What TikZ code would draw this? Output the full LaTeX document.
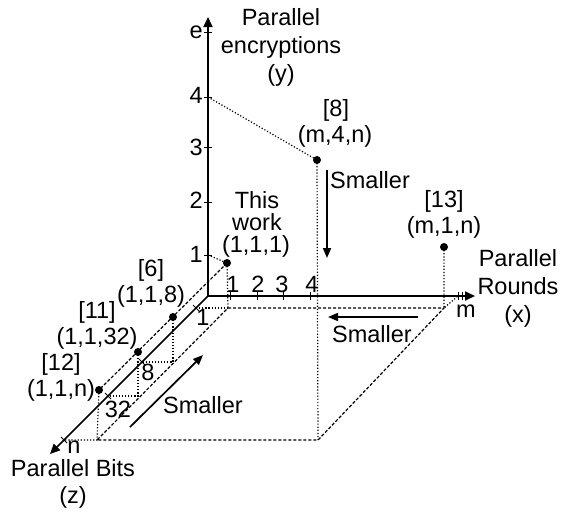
\documentclass[tikz,border=0pt]{standalone}
\usepackage{fontspec}
\setmainfont{Liberation Sans}
\usetikzlibrary{arrows.meta}
\begin{document}
\begin{tikzpicture}[x=1pt,y=-1pt,
  axis/.style={line width=1.7pt,-{Triangle[length=10pt,width=9pt]}},
  arr/.style={line width=1.7pt,-{Triangle[length=10pt,width=8pt]}},
  dotl/.style={line width=1.2pt,dash pattern=on 1.2pt off 1.9pt},
  dashl/.style={line width=1.2pt,dash pattern=on 3.2pt off 1.8pt},
  tick/.style={line width=0.9pt},
  pt/.style={fill=black,circle,inner sep=0pt,minimum size=8pt},
  lbl/.style={inner sep=0pt,anchor=base,font=\fontsize{23.5}{28}\selectfont},
  lble/.style={lbl,anchor=base east},
  lblw/.style={lbl,anchor=base west}]
\useasboundingbox (0,0) rectangle (561,515);
% axes
\coordinate (O) at (208,296);
\coordinate (ytip) at (208,17);
\coordinate (xtip) at (475,296);
\coordinate (ztip) at (50,454);
% y ticks
\coordinate (Y1) at (208,255);
\coordinate (Y2) at (208,202);
\coordinate (Y3) at (208,147);
\coordinate (Y4) at (208,97);
\coordinate (Ye) at (208,32);
% x ticks
\coordinate (X1) at (230,296);
\coordinate (X2) at (257,296);
\coordinate (X3) at (283,296);
\coordinate (X4) at (310,296);
\coordinate (Xm) at (458,296);
\coordinate (Xmb) at (462,296);
% z ticks
\coordinate (Z1) at (196,308);
\coordinate (Z8) at (142,362);
\coordinate (Z32) at (108,396);
\coordinate (Zn) at (64,440);
% floor
\coordinate (A) at (228,308);
\coordinate (B) at (444,308);
\coordinate (C) at (318,440);
\coordinate (D) at (97,440);
\coordinate (F6) at (173,362);
\coordinate (F11) at (138,396);
% arrows for Smaller
\coordinate (s1a) at (327,170);
\coordinate (s1b) at (327,258);
\coordinate (s2a) at (418,317);
\coordinate (s2b) at (328,317);
\coordinate (s3a) at (130,427);
\coordinate (s3b) at (203,355);

\draw[axis] (O) -- (ytip);
\draw[axis] (O) -- (xtip);
\draw[axis] (O) -- (ztip);

\foreach \t in {Y1,Y2,Y3,Y4,Ye} \draw[tick] ([xshift=-4pt]\t) -- ([xshift=4pt]\t);
\foreach \t in {X1,X2,X3,X4,Xm,Xmb} \draw[tick] ([yshift=-4pt]\t) -- ([yshift=4pt]\t);
\foreach \t in {Z1,Z8,Z32,Zn} \draw[tick] ([shift={(-3,-3)}]\t) -- ([shift={(3,3)}]\t);

% points
\node[pt] (P111) at (227,263) {};
\node[pt] (P6) at (173,317) {};
\node[pt] (P11) at (138,352) {};
\node[pt] (P12) at (99,390) {};
\node[pt] (P8) at (317,160) {};
\node[pt] (P13) at (444,247) {};

% dashed
\draw[dashl] (P111.center) -- (P12.center);
\draw[dashl] (A) -- (B) -- (C) -- (D) -- cycle;

% dotted
\draw[dotl] (Y1) -- (P111.center);
\draw[dotl] (Y4) -- (P8.center);
\draw[dotl] (P111.center) -- (A);
\draw[dotl] (Z1) -- (A);
\draw[dotl] (P6.center) -- (F6) -- (Z8);
\draw[dotl] (P11.center) -- (F11) -- (Z32);
\draw[dotl] (P12.center) -- (D) -- (Zn);
\draw[dotl] (P8.center) -- (C);
\draw[dotl] (P13.center) -- (B) -- (Xm);

% Smaller arrows
\draw[arr] (s1a) -- (s1b);
\draw[arr] (s2a) -- (s2b);
\draw[arr] (s3a) -- (s3b);

% labels
\node[lbl] (ylab1) at (281,25) {Parallel};
\node[lbl] (ylab2) at (281,53) {encryptions};
\node[lbl] (ylab3) at (281,81) {(y)};
\node[lbl] (xlab1) at (518,266) {Parallel};
\node[lbl] (xlab2) at (518,294) {Rounds};
\node[lbl] (xlab3) at (518,322) {(x)};
\node[lbl] (zlab1) at (73,476) {Parallel Bits};
\node[lbl] (zlab2) at (73,503) {(z)};
\node[lbl] (tw1) at (257,208) {This};
\node[lbl] (tw2) at (257,230) {work};
\node[lbl] (tw3) at (256,252) {(1,1,1)};
\node[lbl] (r8a) at (336,116) {[8]};
\node[lbl] (r8b) at (335,142) {(m,4,n)};
\node[lbl] (r13a) at (444,207) {[13]};
\node[lbl] (r13b) at (444,233) {(m,1,n)};
\node[lbl] (r6a) at (151,276) {[6]};
\node[lbl] (r6b) at (151,302) {(1,1,8)};
\node[lbl] (r11a) at (97,318) {[11]};
\node[lbl] (r11b) at (97,344) {(1,1,32)};
\node[lbl] (r12a) at (61,370) {[12]};
\node[lbl] (r12b) at (61,396) {(1,1,n)};
\node[lblw] (sm1) at (330,188) {Smaller};
\node[lbl] (sm2) at (372,342) {Smaller};
\node[lbl] (sm3) at (203,413) {Smaller};
\node[lble] (te) at (203,38) {e};
\node[lble] (t4) at (203,103) {4};
\node[lble] (t3) at (203,155) {3};
\node[lble] (t2) at (203,208) {2};
\node[lble] (t1) at (203,262) {1};
\node[lbl] (x1) at (233,292) {1};
\node[lbl] (x2) at (258,292) {2};
\node[lbl] (x3) at (282,292) {3};
\node[lbl] (x4) at (312,292) {4};
\node[lbl] (xm) at (466,317) {m};
\node[lbl] (z1) at (203,325) {1};
\node[lbl] (z8) at (148,380) {8};
\node[lbl] (z32) at (118,417) {32};
\node[lbl] (zn) at (74,453) {n};
\end{tikzpicture}
\end{document}
